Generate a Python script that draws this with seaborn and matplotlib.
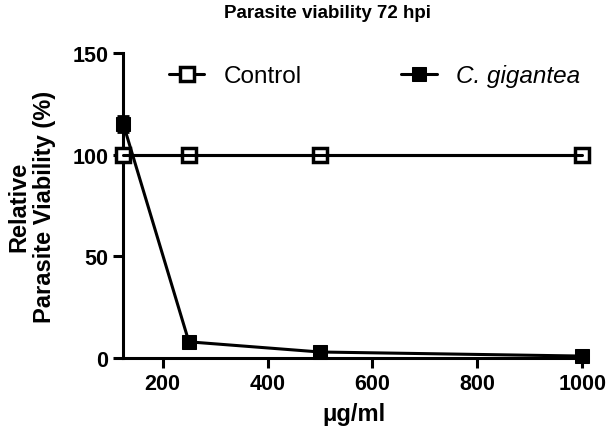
import matplotlib
matplotlib.use("Agg")
import matplotlib.pyplot as plt
import seaborn as sns
import pandas as pd

conc = [125, 250, 500, 1000]
control = [100, 100, 100, 100]
gigantea = [115, 8, 3, 1]
gigantea_err = [4, 1, 0.5, 0.3]

df = pd.DataFrame({"conc": conc * 2,
                   "viab": control + gigantea,
                   "group": ["Control"] * 4 + ["C. gigantea"] * 4})

sns.set_style("ticks")
plt.rcParams['font.family'] = ['Liberation Sans', 'DejaVu Sans']
for k in ["text.color", "axes.labelcolor", "xtick.color", "ytick.color", "axes.edgecolor"]:
    plt.rcParams[k] = "black"

fig = plt.figure(figsize=(6.08, 4.39), dpi=100)
ax = fig.add_axes([0.202, 0.182, 0.76, 0.695])

sns.lineplot(data=df[df.group == "Control"], x="conc", y="viab", ax=ax,
             color="black", lw=2.2, marker="s", markersize=10,
             markerfacecolor="white", markeredgecolor="black", markeredgewidth=2.5,
             label="Control", clip_on=False, zorder=3)
sns.lineplot(data=df[df.group == "C. gigantea"], x="conc", y="viab", ax=ax,
             color="black", lw=2.2, marker="s", markersize=10,
             markerfacecolor="black", markeredgecolor="black",
             label="C. gigantea", clip_on=False, zorder=4)
ax.errorbar(conc, gigantea, yerr=gigantea_err, fmt="none", ecolor="black",
            elinewidth=2, capsize=4, capthick=2, clip_on=False, zorder=4)
# line drawn across the open markers, as in the original
ax.plot(conc, control, color="black", lw=2.2, zorder=5, clip_on=False)

ax.set_xlim(124, 1005)
ax.set_ylim(0, 150)
ax.set_xticks([200, 400, 600, 800, 1000])
ax.set_yticks([0, 50, 100, 150])
sns.despine(ax=ax)
for s in ["left", "bottom"]:
    ax.spines[s].set_linewidth(2.2)
ax.tick_params(width=2.2, length=7, labelsize=15.5)
for t in ax.get_xticklabels() + ax.get_yticklabels():
    t.set_fontweight("bold")

ax.set_xlabel("\u03bcg/ml", fontsize=17, fontweight="bold", labelpad=6)
ax.set_ylabel("Relative\nParasite Viability (%)", fontsize=17, fontweight="bold",
              linespacing=1.15)
ax.yaxis.set_label_coords(-0.145, 0.5)
fig.text(0.538, 1 - 13 / 439, "Parasite viability 72 hpi", fontsize=13.5,
         fontweight="bold", ha="center", va="center")

leg = ax.legend(loc="center", bbox_to_anchor=(0.545, 0.925), ncol=2,
                frameon=False, fontsize=17.5, handlelength=1.45, columnspacing=4.1,
                handletextpad=0.8)
leg.get_texts()[1].set_fontstyle("italic")

fig.savefig("out.png", dpi=100)
